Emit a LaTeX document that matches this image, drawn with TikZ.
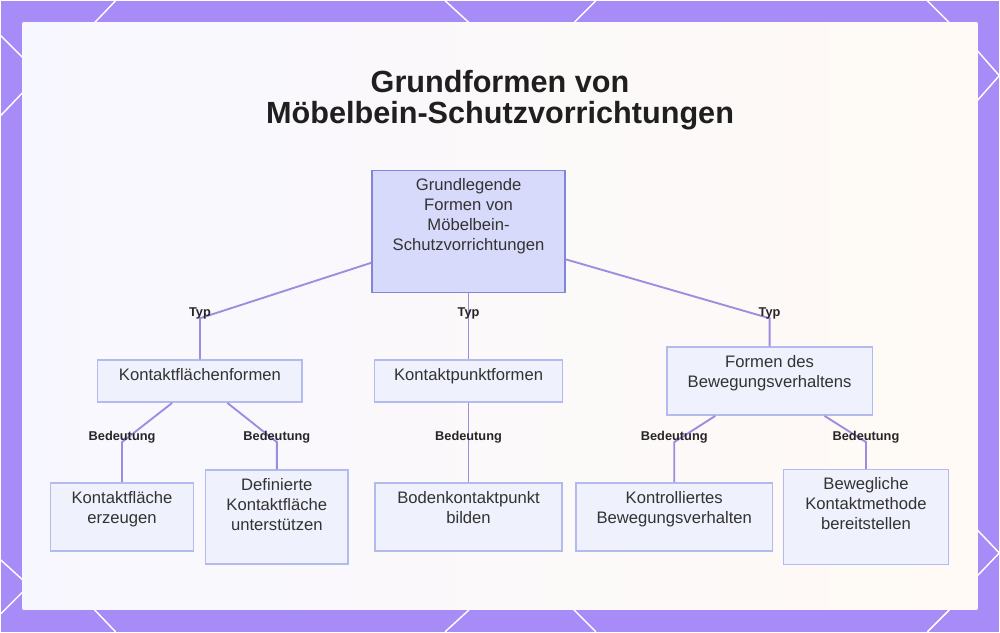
\documentclass[tikz,border=0pt]{standalone}
\usepackage{fontspec}
\setmainfont{Liberation Sans}
\usepackage{xcolor}
\definecolor{frame}{HTML}{A78BF6}
\definecolor{edge}{HTML}{9F8BE0}
\definecolor{rootfill}{HTML}{D8DAFB}
\definecolor{rootline}{HTML}{7F87D6}
\definecolor{boxfill}{HTML}{EFF1FD}
\definecolor{boxline}{HTML}{B3BAEE}
\definecolor{ink}{HTML}{333333}

\begin{document}
\begin{tikzpicture}[x=0.75pt, y=-0.75pt,
  box/.style={draw=boxline, fill=boxfill, line width=1.2pt},
  txt/.style={font=\fontsize{12.5}{15}\selectfont, text=ink, align=center, inner sep=0pt},
  tag/.style={font=\fontsize{9.6}{11}\selectfont\bfseries, text=black!85, inner sep=1pt},
  link/.style={draw=edge, line width=1.4pt}]
  % frame and panel
  \fill[frame] (0,0) rectangle (1000,632);
  \draw[white, line width=1.1pt]
    (115,0) -- (94,22)  (445,0) -- (469,22)  (596,0) -- (574,22)  (928,0) -- (950,22)
    (94,610) -- (115,632)  (469,610) -- (445,632)  (574,610) -- (596,632)  (950,610) -- (928,632)
    (0,35) -- (22,57)  (22,92) -- (0,115)  (0,560) -- (22,580)  (22,592) -- (0,614)
    (978,50) -- (1000,75) -- (978,100)  (978,530) -- (1000,553) -- (978,576);
  \shade[left color=white!97!blue, right color=orange!4!white] (22,22) rectangle (978,610);
  \node[font=\fontsize{23}{23.5}\selectfont\bfseries, text=black!88, align=center] (title) at (500,99.5)
    {Grundformen von\\Möbelbein-Schutzvorrichtungen};

  % nodes
  \node[box, fill=rootfill, draw=rootline, minimum width=144.75pt, minimum height=91.5pt,
    label={[txt, anchor=north, yshift=-6.5pt]north:{Grundlegende\\Formen von\\Möbelbein-\\Schutzvorrichtungen}}]
    (root) at (468.5,231) {};
  \node[box, minimum width=153.75pt, minimum height=31.5pt,
    label={[txt, anchor=north, yshift=-6.5pt]north:{Kontaktflächenformen}}] (k1) at (199.5,381) {};
  \node[box, minimum width=141pt, minimum height=31.5pt,
    label={[txt, anchor=north, yshift=-6.5pt]north:{Kontaktpunktformen}}] (k2) at (468.5,381) {};
  \node[box, minimum width=154.5pt, minimum height=51pt,
    label={[txt, anchor=north, yshift=-6.5pt]north:{Formen des\\Bewegungsverhaltens}}] (k3) at (770,381) {};
  \node[box, minimum width=107.25pt, minimum height=51pt,
    label={[txt, anchor=north, yshift=-6.5pt]north:{Kontaktfläche\\erzeugen}}] (l1) at (121.5,517) {};
  \node[box, minimum width=107.25pt, minimum height=70.5pt,
    label={[txt, anchor=north, yshift=-6.5pt]north:{Definierte\\Kontaktfläche\\unterstützen}}] (l2) at (276.5,517) {};
  \node[box, minimum width=140.25pt, minimum height=51pt,
    label={[txt, anchor=north, yshift=-6.5pt]north:{Bodenkontaktpunkt\\bilden}}] (l3) at (468.5,517) {};
  \node[box, minimum width=147.75pt, minimum height=51pt,
    label={[txt, anchor=north, yshift=-6.5pt]north:{Kontrolliertes\\Bewegungsverhalten}}] (l4) at (674.5,517) {};
  \node[box, minimum width=123.75pt, minimum height=71.25pt,
    label={[txt, anchor=north, yshift=-6.5pt]north:{Bewegliche\\Kontaktmethode\\bereitstellen}}] (l5) at (866.5,517) {};

  % bends
  \coordinate (b1) at (k1.north |- 0,318);
  \coordinate (b2) at (k2.north |- 0,318);
  \coordinate (b3) at (k3.north |- 0,318);
  \coordinate (c1) at (l1.north |- 0,442);
  \coordinate (c2) at (l2.north |- 0,442);
  \coordinate (c3) at (l3.north |- 0,442);
  \coordinate (c4) at (l4.north |- 0,442);
  \coordinate (c5) at (l5.north |- 0,442);

  % links
  \draw[link] (root) -- (b1) -- (k1);
  \draw[link] (root) -- (b2) -- (k2);
  \draw[link] (root) -- (b3) -- (k3);
  \draw[link] (k1) -- (c1) -- (l1);
  \draw[link] (k1) -- (c2) -- (l2);
  \draw[link] (k2) -- (c3) -- (l3);
  \draw[link] (k3) -- (c4) -- (l4);
  \draw[link] (k3) -- (c5) -- (l5);

  % link labels
  \node[tag] (t1) at ([yshift=3.5pt]b1) {Typ};
  \node[tag] (t2) at ([yshift=3.5pt]b2) {Typ};
  \node[tag] (t3) at ([yshift=3.5pt]b3) {Typ};
  \node[tag] (m1) at ([yshift=3.5pt]c1) {Bedeutung};
  \node[tag] (m2) at ([yshift=3.5pt]c2) {Bedeutung};
  \node[tag] (m3) at ([yshift=3.5pt]c3) {Bedeutung};
  \node[tag] (m4) at ([yshift=3.5pt]c4) {Bedeutung};
  \node[tag] (m5) at ([yshift=3.5pt]c5) {Bedeutung};
\end{tikzpicture}
\end{document}
